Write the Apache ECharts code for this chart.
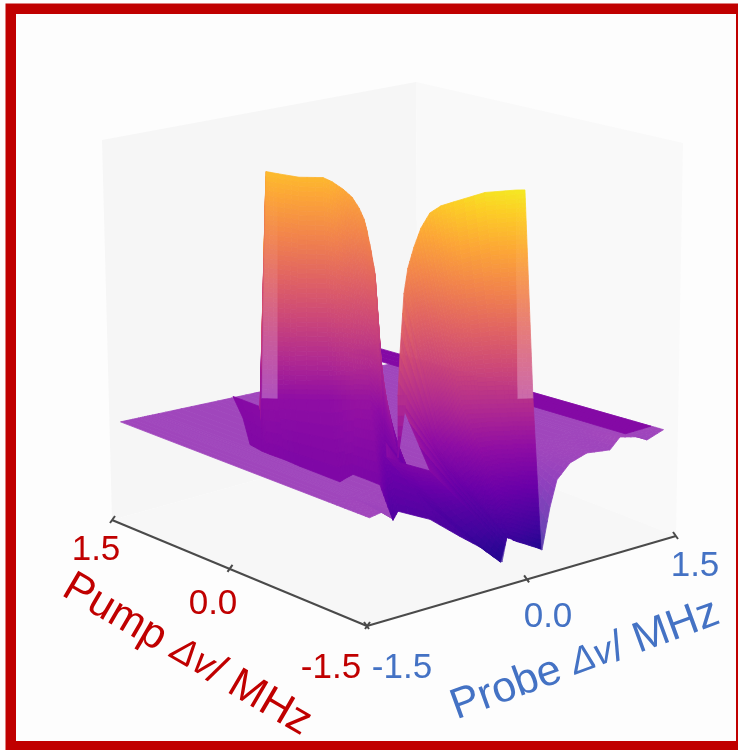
<!DOCTYPE html>
<html><head><meta charset="utf-8">
<style>html,body{margin:0;padding:0;background:#fff}#c{width:738px;height:750px}</style>
<script src="https://cdn.jsdelivr.net/npm/echarts@6/dist/echarts.min.js"></script>
</head><body><div id="c"></div>
<script>
// ---------- axis ticks ----------
const pumpTicks = [1.5, 0.0, -1.5];
const probeTicks = [-1.5, 0.0, 1.5];
const pumpTickLabels = ['1.5', '0.0', '-1.5'];
const probeTickLabels = ['-1.5', '0.0', '1.5'];

// ---------- flat sheet: front edge profile (pump = -1.5) ----------
const sheetProbe = [-1.5,-1.32,-1.26,-1.21,-1.117,-0.883,-0.577,-0.372,-0.148,-0.097,-0.036,0.138,0.26,0.342,0.413,0.546,0.719,0.954,1.056,1.23,1.332,1.5];
const sheetFrontZ = [0.26,0.267,0.238,0.258,0.256,0.212,0.143,0.098,0.039,0.101,0.088,0.064,0.039,0.146,0.212,0.246,0.259,0.249,0.275,0.262,0.246,0.26];
const sheetLevel = 0.26;

// ---------- peak ribbon: crest, shoulder and base lines ----------
const crestPump  = [1.447,1.024,1.388,1.284,1.19,1.065,1.014,1.046,0.99,0.885,0.789,0.685,0.566,0.541,0.328,-0.405,-0.575,-0.895,-0.515,-0.445,-0.328,-0.226,-0.217,-0.254,-0.305,-0.451,-0.593,-0.881,-1.119,-1.205];
const crestProbe = [-0.397,-0.479,-0.11,-0.076,0.059,0.198,0.247,0.386,0.431,0.413,0.382,0.325,0.265,0.285,0.155,-0.394,-0.405,-0.37,-0.375,-0.295,-0.155,-0.029,0.041,0.081,0.129,0.118,0.131,0.203,0.317,0.336];
const crestZ     = [0.27,0.28,0.85,0.85,0.84,0.84,0.83,0.80,0.78,0.76,0.74,0.72,0.68,0.62,0.46,0.25,0.25,0.25,0.42,0.52,0.66,0.71,0.76,0.81,0.85,0.88,0.90,0.94,0.955,0.96];
const midPump    = [0.946,0.643,1.022,0.938,0.849,0.666,0.527,0.381,0.344,0.302,0.257,0.211,0.142,0.005,-0.126,-0.834,-0.977,-1.094,-0.794,-0.681,-0.752,-0.792,-0.832,-0.893,-0.952,-0.994,-1.046,-1.177,-1.245,-1.323];
const midProbe   = [-0.719,-0.781,-0.461,-0.369,-0.271,-0.069,-0.065,-0.054,-0.014,0.032,0.034,0.036,0.018,-0.077,-0.178,-0.319,-0.287,-0.182,-0.132,-0.169,-0.147,-0.13,-0.113,-0.103,-0.092,-0.046,0.012,0.156,0.231,0.318];
const midZ       = [0.27,0.27,0.30,0.30,0.30,0.30,0.31,0.32,0.32,0.32,0.31,0.30,0.28,0.27,0.26,0.15,0.14,0.16,0.24,0.30,0.33,0.345,0.36,0.39,0.42,0.42,0.42,0.42,0.42,0.42];
const basePump   = [0.458,0.273,0.17,0.029,-0.134,-0.627,-0.583,-0.553,-0.689,-0.82,-0.811,-0.77,-0.768,-1.021,-1.292,-1.388,-1.5,-1.40,-1.423,-1.449,-1.459,-1.461,-1.478,-1.488,-1.5,-1.5,-1.5,-1.487,-1.482,-1.479];
const baseProbe  = [-1.06,-1.095,-1.10,-1.067,-1.051,-1.062,-0.953,-0.866,-0.838,-0.817,-0.748,-0.642,-0.589,-0.477,-0.401,-0.278,-0.164,-0.043,-0.032,-0.044,-0.032,-0.018,-0.017,0,0.01,0.043,0.076,0.169,0.234,0.267];
const baseZ      = [0.26,0.26,0.26,0.255,0.25,0.25,0.25,0.25,0.245,0.24,0.19,0.13,0.15,0.14,0.11,0.08,0.04,0.06,0.09,0.09,0.09,0.088,0.085,0.082,0.08,0.075,0.07,0.055,0.045,0.04];
const paleRibbonCells = [2, 28];

// ---------- small fold between the two peaks ----------
const foldPump = [-0.515,-0.562,-0.54];
const foldProbe = [-0.375,-0.323,-0.396];
const foldZ = [0.42,0.42,0.26];

// ---------- ridge along the far probe edge ----------
const ridgePump = [1.9, -1.43];
const ridgeProbe = [1.17, 1.43];
const ridgeZ = 0.27;

// ---------- colour map (plasma) ----------
const plasma = ['#0d0887','#41049d','#6a00a8','#8f0da4','#b12a90','#cc4778','#e16462','#f2844b','#fca636','#fcce25','#f0f921'];
const zTop = 0.995;
const hex = h => [1,3,5].map(i => parseInt(h.substr(i,2),16));
function colour(z, pale) {
  const c = Math.max(0, Math.min(0.9999, z/zTop)) * 10, i = Math.floor(c), f = c - i;
  const a = hex(plasma[i]), b = hex(plasma[i+1]);
  const v = a.map((x,k) => Math.round((x + (b[k]-x)*f) * (1-pale) + 255*pale));
  return 'rgb(' + v.join(',') + ')';
}
// view of the surface
function view(p, q, z) {
  return [392 - 83*p + 98*q, 432 - 27.8*p - 25.2*q + 2.78*p*q - 380*(z - sheetLevel)];
}
// box of the scene, in page units
const boxFloor = [[112,520],[367,626],[676,536],[418,435]];
const boxTop = [[102,140],[416,82],[683,143]];

// ---------- cells ----------
const cells = [];
function cell(a,b,c,d,pale,n) { cells.push([...a,...b,...c,...d,pale,n]); }
// sheet: kind 1 = evenly pale
for (let i=0;i<sheetProbe.length-1;i++){
  const q0=sheetProbe[i], q1=sheetProbe[i+1];
  cell([1.5,q0,sheetLevel],[1.5,q1,sheetLevel],[-1,q1,sheetLevel],[-1,q0,sheetLevel],1,1);
  cell([-1,q0,sheetLevel],[-1,q1,sheetLevel],[-1.5,q1,sheetFrontZ[i+1]],[-1.5,q0,sheetFrontZ[i]],1,10);
}
// ridge
cell([ridgePump[0],ridgeProbe[0],ridgeZ],[ridgePump[0],ridgeProbe[1],ridgeZ],[ridgePump[1],ridgeProbe[1],ridgeZ],[ridgePump[1],ridgeProbe[0],ridgeZ],0,1);
// ribbon: kind 2 = pale fading towards the crest
for (let i=0;i<crestZ.length-1;i++){
  const pale = paleRibbonCells.includes(i) ? 2 : 0;
  const T=j=>[crestPump[j],crestProbe[j],crestZ[j]], M=j=>[midPump[j],midProbe[j],midZ[j]], B=j=>[basePump[j],baseProbe[j],baseZ[j]];
  const d1=Math.max(Math.abs(crestZ[i]-midZ[i]),Math.abs(crestZ[i+1]-midZ[i+1]));
  const d2=Math.max(Math.abs(midZ[i]-baseZ[i]),Math.abs(midZ[i+1]-baseZ[i+1]));
  cell(T(i),T(i+1),M(i+1),M(i),pale,Math.ceil(d1/0.012)+1);
  cell(M(i),M(i+1),B(i+1),B(i),0,Math.ceil(d2/0.012)+1);
}
// fold
const F=j=>[foldPump[j],foldProbe[j],foldZ[j]];
cell(F(0),F(1),F(2),F(2),0,6);

function renderCell(params, api) {
  const g=[]; for(let k=0;k<14;k++) g.push(api.value(k));
  const kind=g[12], n=g[13], m=3;
  const P=(u,v)=>{ const o=[]; for(let k=0;k<3;k++){
      const top=g[k]+(g[3+k]-g[k])*u, bot=g[9+k]+(g[6+k]-g[9+k])*u; o.push(top+(bot-top)*v);} return o; };
  const out=[];
  for(let a=0;a<n;a++) for(let b=0;b<m;b++){
    const c=[P(b/m,a/n),P((b+1)/m,a/n),P((b+1)/m,(a+1)/n),P(b/m,(a+1)/n)];
    const pts=c.map(r=>api.coord(view(r[0],r[1],r[2])));
    const z=(c[0][2]+c[1][2]+c[2][2]+c[3][2])/4;
    const pale = kind===1 ? 0.25 : kind===2 ? 0.28*Math.pow((a+0.5)/n,1.5) : 0;
    const col=colour(z,pale);
    out.push({type:'polygon',shape:{points:pts},style:{fill:col,stroke:col,lineWidth:0.8}});
  }
  return {type:'group',children:out};
}

// ---------- box walls and axis lines ----------
const walls = [
  {pts:[boxFloor[0],boxTop[0],boxTop[1],boxFloor[3]],fill:'#f6f6f6'},
  {pts:[boxFloor[3],boxTop[1],boxTop[2],boxFloor[2]],fill:'#f9f9f9'},
  {pts:boxFloor,fill:'#f7f7f7'}
];
const lerp=(a,b,t)=>[a[0]+(b[0]-a[0])*t,a[1]+(b[1]-a[1])*t];
const pumpAt=v=>{const t=(1.5-v)/3;return lerp(boxFloor[0],boxFloor[1],t/(t+(1-t)*1.17));};
const probeAt=v=>{const t=(v+1.5)/3;return lerp(boxFloor[1],boxFloor[2],t/(t+(1-t)*0.93));};
const axisSegs=[[boxFloor[0],boxFloor[1]],[boxFloor[1],boxFloor[2]]];
pumpTicks.forEach(v=>{const s=pumpAt(v);axisSegs.push([[s[0]+3,s[1]-4],[s[0]-2,s[1]+3]]);});
probeTicks.forEach(v=>{const s=probeAt(v);axisSegs.push([[s[0]-3,s[1]-4],[s[0]+2,s[1]+3]]);});

const red='#c00000', blue='#4472c4', sans='"Liberation Sans",Arial,sans-serif';
const tick=(t,x,y,c)=>({type:'text',x,y,silent:true,z:50,style:{text:t,fill:c,font:'35px '+sans,align:'center',verticalAlign:'middle'}});
const richRow=c=>({a:{fill:c,fontSize:43,fontFamily:sans},d:{fill:c,fontSize:37,fontStyle:'italic',fontFamily:sans}});
const title=(t,x,y,r,c)=>({type:'text',x,y,rotation:r,silent:true,z:50,style:{text:t,rich:richRow(c),align:'center',verticalAlign:'middle'}});

const chart=echarts.init(document.getElementById('c'),null,{renderer:'canvas',width:738,height:750});
chart.setOption({
  animation:false,
  backgroundColor:'#fdfdfd',
  grid:{left:0,right:0,top:0,bottom:0},
  xAxis:{type:'value',min:0,max:738,show:false},
  yAxis:{type:'value',min:0,max:750,inverse:true,show:false},
  series:[
    {type:'custom',silent:true,clip:false,z:1,data:walls.map((w,i)=>[i]),
     renderItem:(p,api)=>{const w=walls[api.value(0)];return{type:'polygon',shape:{points:w.pts.map(s=>api.coord(s))},style:{fill:w.fill}};}},
    {type:'custom',silent:true,clip:false,z:2,data:axisSegs.map(s=>[s[0][0],s[0][1],s[1][0],s[1][1]]),
     renderItem:(p,api)=>{const a=api.coord([api.value(0),api.value(1)]),b=api.coord([api.value(2),api.value(3)]);
       return{type:'line',shape:{x1:a[0],y1:a[1],x2:b[0],y2:b[1]},style:{stroke:'#4a4a4a',lineWidth:2}};}},
    {type:'custom',silent:true,clip:false,z:3,data:cells,renderItem:renderCell}
  ],
  graphic:{elements:[
    {type:'rect',silent:true,z:60,shape:{x:10.75,y:8.75,width:730.5,height:737.5},style:{fill:'none',stroke:red,lineWidth:10.5}},
    tick(pumpTickLabels[0],96,550,red),tick(pumpTickLabels[1],213,604,red),tick(pumpTickLabels[2],331,668,red),
    tick(probeTickLabels[0],402,668,blue),tick(probeTickLabels[1],548,617,blue),tick(probeTickLabels[2],695,566,blue),
    title('{a|Pump }{d|Δv}{a|/ MHz}',187,655,-0.53,red),
    title('{a|Probe }{d|Δv}{a|/ MHz}',585,660,0.35,blue)
  ]}
});
</script></body></html>
